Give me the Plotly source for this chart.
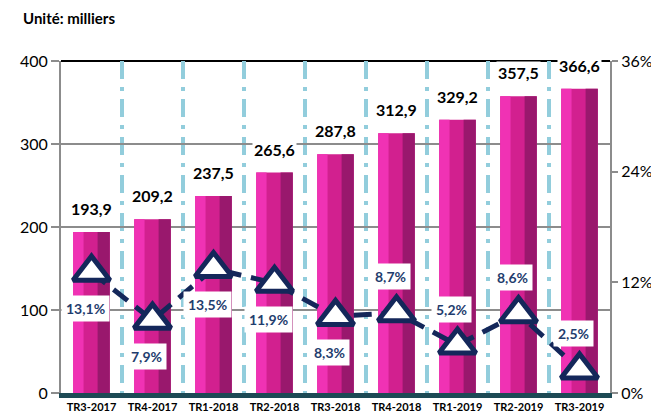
import plotly.graph_objects as go

categories = ["TR3-2017", "TR4-2017", "TR1-2018", "TR2-2018", "TR3-2018",
              "TR4-2018", "TR1-2019", "TR2-2019", "TR3-2019"]
values = [193.9, 209.2, 237.5, 265.6, 287.8, 312.9, 329.2, 357.5, 366.6]
growth = [13.1, 7.9, 13.5, 11.9, 8.3, 8.7, 5.2, 8.6, 2.5]
growth_label_below = [True, True, True, True, True, False, False, False, False]
y2_ticks = [0, 12, 24, 36]

FONT = "Lato, 'Liberation Sans', sans-serif"
NAVY = "#14275a"

def fr(v, suffix=""):
    return f"{v:.1f}".replace(".", ",") + suffix

fig = go.Figure()

# bars with simple bevel shading (base, light left strip, dark right strip)
fig.add_trace(go.Bar(x=categories, y=values, width=0.6, offset=-0.3,
                     marker=dict(color="#d2208f", line=dict(width=0)),
                     hoverinfo="skip"))
fig.add_trace(go.Bar(x=categories, y=values, width=0.17, offset=-0.3,
                     marker=dict(color="#f032b4", line=dict(width=0)),
                     hoverinfo="skip"))
fig.add_trace(go.Bar(x=categories, y=values, width=0.2, offset=0.1,
                     marker=dict(color="#99186d", line=dict(width=0)),
                     hoverinfo="skip"))

fig.add_trace(go.Scatter(
    x=categories, y=growth, yaxis="y2", mode="lines+markers",
    line=dict(color=NAVY, width=5, dash="18px,10px"),
    marker=dict(symbol="triangle-up", size=32, color="white",
                line=dict(color=NAVY, width=5)),
    hoverinfo="skip"))

annotations = []
for c, v in zip(categories, values):
    annotations.append(dict(x=c, y=v, xref="x", yref="y", text=f"<b>{fr(v)}</b>",
                            showarrow=False, yanchor="bottom", yshift=12,
                            font=dict(family=FONT, size=16, color="black"),
                            bgcolor="white", borderpad=1))
for c, g, below in zip(categories, growth, growth_label_below):
    annotations.append(dict(x=c, y=g, xref="x", yref="y2", text=f"<b>{fr(g, '%')}</b>",
                            showarrow=False, yshift=-36 if below else 36,
                            xshift=-6,
                            font=dict(family=FONT, size=14, color="#1f3d6e"),
                            bgcolor="white", borderpad=4))
annotations.append(dict(x=0, y=1, xref="paper", yref="paper", xshift=-40, yshift=32,
                        text="<b>Unité: milliers</b>", showarrow=False,
                        xanchor="left", yanchor="bottom",
                        font=dict(family=FONT, size=15, color="black")))

fig.update_layout(
    width=651, height=406,
    margin=dict(l=53, r=49, t=53, b=21, autoexpand=False),
    paper_bgcolor="white", plot_bgcolor="white",
    barmode="overlay", showlegend=False,
    font=dict(family=FONT, color="black"),
    xaxis=dict(type="category", range=[-0.5, len(categories) - 0.5],
               tickson="boundaries", showgrid=True,
               gridcolor="#92cddc", gridwidth=4, griddash="18px,8px,4px,8px",
               showline=True, linecolor="#1d4a55", linewidth=5,
               ticks="", tickangle=0, automargin=False,
               tickfont=dict(family=FONT, size=11, color="black"),
               tickvals=categories, ticktext=[f"<b>{c}</b>" for c in categories]),
    yaxis=dict(range=[0, 400], dtick=100, showgrid=True, gridcolor="#8c8c8c",
               gridwidth=2, zeroline=False, showline=True, linecolor="#8c8c8c",
               linewidth=2, ticks="outside", tickcolor="#8c8c8c", ticklen=8,
               tickwidth=2, automargin=False,
               tickfont=dict(family=FONT, size=16, color="black")),
    yaxis2=dict(range=[0, 36], tickvals=y2_ticks,
                ticktext=[f"{t}%" for t in y2_ticks],
                overlaying="y", side="right", showgrid=False, zeroline=False,
                showline=True, linecolor="#8c8c8c", linewidth=2, ticks="outside",
                tickcolor="#8c8c8c", ticklen=6, tickwidth=2, automargin=False,
                tickfont=dict(family=FONT, size=16, color="black")),
    shapes=[dict(type="line", xref="paper", yref="paper", x0=0, x1=1, y0=1, y1=1,
                 line=dict(color="black", width=2), layer="below")],
    annotations=annotations,
)

fig.write_html("out.html")
